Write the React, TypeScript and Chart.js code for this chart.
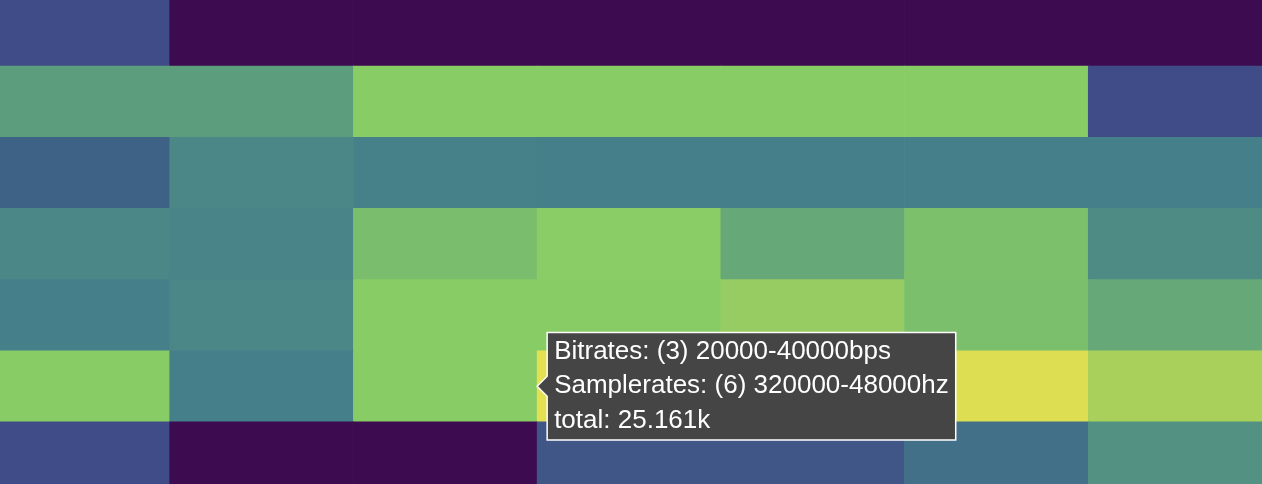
import React, { useEffect, useRef } from "react";
import { Chart, registerables, Tooltip } from "chart.js";

Chart.register(...registerables);

// Columns (bitrate buckets) left → right
const bitrateBuckets = ["0", "1", "2", "3", "4", "5", "6"];
// Rows (samplerate buckets) top → bottom
const samplerateBuckets = ["0", "1", "2", "3", "4", "5", "6"];

// Totals in thousands, one array per row, top → bottom
const row0 = [3.8, 0, 0, 0, 0, 0, 0];
const row1 = [13.8, 13.8, 18.9, 18.9, 18.9, 18.9, 3.8];
const row2 = [6.3, 11.3, 9.3, 8.8, 8.8, 8.8, 8.8];
const row3 = [11.3, 10.1, 16.6, 19.1, 14.8, 17.1, 11.8];
const row4 = [8.8, 11.3, 18.9, 18.9, 20.4, 16.9, 14.8];
const row5 = [18.9, 8.8, 18.9, 25.161, 20.0, 24.9, 22.6];
const row6 = [3.8, 0, 0, 5.0, 5.0, 7.5, 12.6];
const rows = [row0, row1, row2, row3, row4, row5, row6];

const maxValue = 25.161;

// colour ramp (normalised value → colour)
const rampStops = [0, 0.15, 0.25, 0.35, 0.45, 0.55, 0.65, 0.75, 0.82, 0.9, 1.0];
const rampColors = [
  "#3d0b4f", "#404c88", "#3e6186", "#45808a", "#4a8786", "#5c9d7e",
  "#78bb6e", "#88cc66", "#98cc60", "#a8d05a", "#e4e052",
];

// hovered cell tooltip
const activeRow = 5;
const activeCol = 3;
const tipBitrate = "Bitrates: (3) 20000-40000bps";
const tipSamplerate = "Samplerates: (6) 320000-48000hz";

function hexToRgb(h: string) {
  const n = parseInt(h.slice(1), 16);
  return [(n >> 16) & 255, (n >> 8) & 255, n & 255];
}

function colorFor(v: number) {
  const t = Math.max(0, Math.min(1, v / maxValue));
  let i = 0;
  while (i < rampStops.length - 2 && t > rampStops[i + 1]) i++;
  const f = (t - rampStops[i]) / (rampStops[i + 1] - rampStops[i]);
  const a = hexToRgb(rampColors[i]);
  const b = hexToRgb(rampColors[i + 1]);
  const c = a.map((x, k) => Math.round(x + (b[k] - x) * Math.max(0, Math.min(1, f))));
  return `rgb(${c[0]},${c[1]},${c[2]})`;
}

(Tooltip.positioners as any).cellLeft = function (items: any[]) {
  if (!items.length) return false;
  const el = items[0].element;
  return { x: el.x - el.width / 2, y: (el.y + el.base) / 2 };
};

export default function App() {
  const ref = useRef<HTMLCanvasElement | null>(null);

  useEffect(() => {
    if (!ref.current) return;
    const n = rows.length;
    // stacked datasets from bottom row to top row
    const datasets = rows
      .map((r, ri) => ({
        label: samplerateBuckets[ri],
        rowIndex: ri,
        data: r.map(() => 1),
        values: r,
        backgroundColor: r.map((v) => colorFor(v)),
        borderWidth: 0,
        barPercentage: 1,
        categoryPercentage: 1,
      }))
      .reverse();

    const chart = new Chart(ref.current, {
      type: "bar",
      data: { labels: bitrateBuckets, datasets: datasets as any },
      options: {
        animation: false,
        responsive: true,
        maintainAspectRatio: false,
        events: [],
        layout: { padding: 0 },
        scales: {
          x: { stacked: true, display: false, grid: { display: false } },
          y: { stacked: true, display: false, min: 0, max: n, grid: { display: false } },
        },
        plugins: {
          legend: { display: false },
          tooltip: {
            enabled: true,
            position: "cellLeft" as any,
            xAlign: "left",
            yAlign: "center",
            backgroundColor: "#454545",
            borderColor: "#ffffff",
            borderWidth: 1.5,
            cornerRadius: 0,
            caretSize: 10,
            caretPadding: 0,
            displayColors: false,
            padding: { left: 7, right: 7, top: 4, bottom: 4 },
            bodySpacing: 3,
            bodyColor: "#ffffff",
            bodyFont: { family: "'Liberation Sans', Arial, Helvetica, sans-serif", size: 26, lineHeight: 1.2 },
            callbacks: {
              title: () => "",
              label: (ctx: any) => {
                const ds = ctx.dataset;
                const v = ds.values[ctx.dataIndex];
                return [tipBitrate, tipSamplerate, `total: ${v.toFixed(3)}k`];
              },
            },
          },
        },
      },
    });

    const dsIndex = n - 1 - activeRow;
    chart.tooltip!.setActiveElements([{ datasetIndex: dsIndex, index: activeCol }], { x: 0, y: 0 });
    chart.update();

    return () => chart.destroy();
  }, []);

  return (
    <div style={{ position: "fixed", left: 0, top: 0, width: 1262, height: 484, overflow: "hidden" }}>
      <div style={{ position: "absolute", left: -14, top: -5, width: 1286, height: 498 }}>
        <canvas ref={ref} />
      </div>
    </div>
  );
}
